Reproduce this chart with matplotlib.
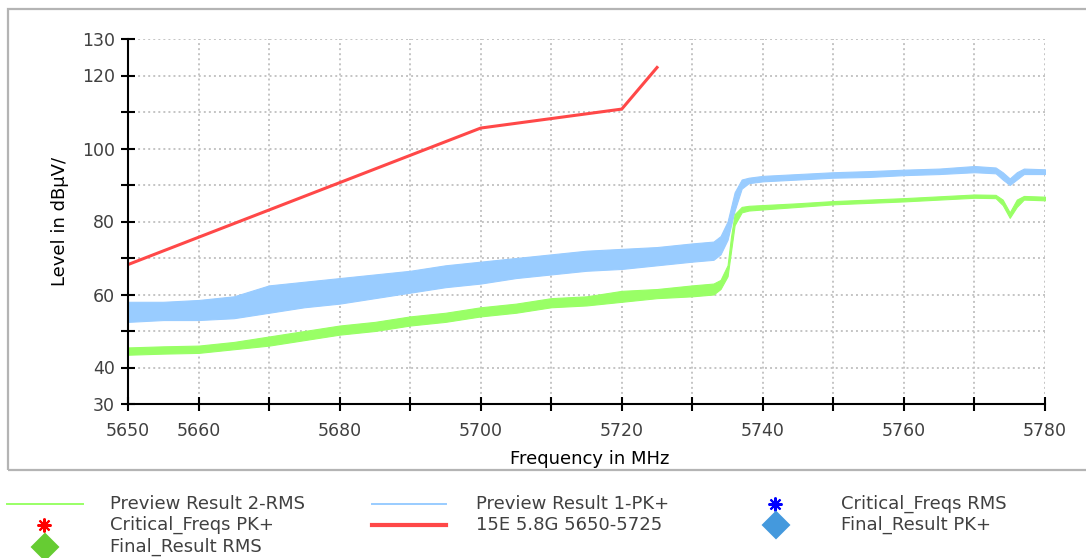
import matplotlib
matplotlib.use("Agg")
import matplotlib.pyplot as plt
from matplotlib.lines import Line2D
from matplotlib.patches import Rectangle

W, H = 1086, 558

# limit line 15E 5.8G 5650-5725
limit_freq = [5650, 5700, 5720, 5725]
limit_level = [68.2, 105.6, 110.8, 122.2]

# Preview Result 1-PK+ (envelope)
pk_freq = [5650, 5655, 5660, 5665, 5670, 5675, 5680, 5685, 5690, 5695, 5700,
           5705, 5710, 5715, 5720, 5725, 5730, 5733, 5734, 5735, 5736, 5737,
           5738, 5740, 5745, 5750, 5755, 5760, 5765, 5770, 5773, 5774, 5775,
           5776, 5777, 5780]
pk_low = [52.5, 53, 53, 53.5, 55, 56.5, 57.5, 59, 60.5, 62, 63,
          64.5, 65.5, 66.5, 67, 68, 69, 69.5, 71, 75, 83, 89,
          90.5, 91, 91.5, 92, 92.2, 92.7, 93, 93.5, 93.2, 91.5, 90,
          91.5, 93, 93]
pk_high = [58, 58, 58.5, 59.5, 62.5, 63.5, 64.5, 65.5, 66.5, 68, 69,
           70, 71, 72, 72.5, 73, 74, 74.5, 76, 80, 88, 91.5,
           92, 92.5, 93, 93.5, 93.8, 94.2, 94.5, 95.2, 94.8, 93.5, 91.8,
           93.5, 94.5, 94.3]

# Preview Result 2-RMS
rms_freq = [5650, 5655, 5660, 5665, 5670, 5675, 5680, 5685, 5690, 5695, 5700,
            5705, 5710, 5715, 5720, 5725, 5730, 5733, 5734, 5735, 5735.5, 5736,
            5737, 5738, 5740, 5745, 5750, 5760, 5770, 5773, 5774, 5775, 5776,
            5777, 5780]
rms_low = [43.5, 43.8, 44, 45, 46, 47.5, 49, 50, 51.5, 52.5, 54,
           55, 56.5, 57, 58, 59, 59.5, 60, 61.5, 65, 72, 79,
           82.5, 83, 83.3, 84, 84.7, 85.5, 86.5, 86.4, 84.5, 81, 84,
           86, 85.8]
rms_high = [45.5, 45.8, 46, 47, 48.5, 50, 51.5, 52.5, 54, 55, 56.5,
            57.5, 59, 59.5, 61, 61.5, 62.5, 63, 64, 68, 76, 82,
            84, 84.3, 84.5, 85, 85.6, 86.4, 87.4, 87.3, 86, 82.5, 86,
            87, 86.8]

x_ticks = [5650, 5660, 5670, 5680, 5690, 5700, 5710, 5720, 5730, 5740, 5750,
           5760, 5770, 5780]
x_labels = ["5650", "5660", "", "5680", "", "5700", "", "5720", "", "5740", "",
            "5760", "", "5780"]
y_ticks = [30, 40, 50, 60, 70, 80, 90, 100, 110, 120, 130]
y_labels = ["30", "40", "", "60", "", "80", "", "100", "", "120", "130"]

GREEN = "#99ff66"
BLUE = "#99ccff"
RED = "#ff4848"
TXT = "#404040"

plt.rcParams["font.family"] = ["DejaVu Sans"]

fig = plt.figure(figsize=(W / 100, H / 100), dpi=100)


def fx(x):
    return x / W


def fy(y):
    return 1 - y / H


# outer frame
fig.add_artist(Rectangle((fx(8), fy(470)), fx(1090) - fx(8), fy(9) - fy(470),
                         transform=fig.transFigure, fill=False,
                         edgecolor="#b4b4b4", linewidth=1.6))

ax = fig.add_axes([fx(128), fy(404), fx(1045) - fx(128), fy(39) - fy(404)])
ax.set_xlim(5650, 5780)
ax.set_ylim(30, 130)

ax.fill_between(pk_freq, pk_low, pk_high, color=BLUE, linewidth=0.8,
                edgecolor=BLUE, zorder=3)
ax.fill_between(rms_freq, rms_low, rms_high, color=GREEN, linewidth=0.8,
                edgecolor=GREEN, zorder=4)
ax.plot(limit_freq, limit_level, color=RED, linewidth=2.2, zorder=5)

ax.set_xticks(x_ticks)
ax.set_xticklabels(x_labels)
ax.set_yticks(y_ticks)
ax.set_yticklabels(y_labels)
ax.tick_params(axis="both", direction="inout", length=9.5, width=1.5,
               color="black", labelcolor=TXT, labelsize=12.5)
ax.tick_params(axis="y", pad=4.5)
ax.tick_params(axis="x", pad=8)
ax.grid(True, color="#c4c4c4", linestyle=(0, (1, 1.6)), linewidth=1.4, zorder=1)
ax.set_axisbelow(True)
for side in ("top", "right"):
    ax.spines[side].set_visible(False)
for side in ("left", "bottom"):
    ax.spines[side].set_linewidth(1.5)
    ax.spines[side].set_zorder(6)

fig.text(fx(590), fy(459), "Frequency in MHz", ha="center", va="center",
         fontsize=13, color="black")
fig.text(fx(60), fy(221), "Level in dBµV/", ha="center", va="center",
         rotation=90, fontsize=13, color="black")

# legend
rows = [504, 525, 547]


def leg_line(x0, x1, y, color, lw):
    fig.add_artist(Line2D([fx(x0), fx(x1)], [fy(y), fy(y)],
                          transform=fig.transFigure, color=color, linewidth=lw))


def leg_mark(x, y, marker, color, size):
    fig.add_artist(Line2D([fx(x)], [fy(y)], transform=fig.transFigure,
                          marker=marker, color=color, markersize=size,
                          linestyle="none", markeredgewidth=1.5))


def leg_text(x, y, s):
    fig.text(fx(x), fy(y), s, ha="left", va="center", fontsize=13, color=TXT)


leg_line(7, 83, rows[0], GREEN, 1.4)
leg_text(110, rows[0], "Preview Result 2-RMS")
leg_mark(44, rows[1], (8, 2, 0), "#ff0000", 10)
leg_text(110, rows[1], "Critical_Freqs PK+")
leg_mark(45, rows[2], "D", "#66cc33", 13)
leg_text(110, rows[2], "Final_Result RMS")

leg_line(372, 446, rows[0], BLUE, 1.4)
leg_text(476, rows[0], "Preview Result 1-PK+")
leg_line(372, 446, rows[1], RED, 3)
leg_text(476, rows[1], "15E 5.8G 5650-5725")

leg_mark(775, rows[0], (8, 2, 0), "#0000ff", 10)
leg_text(841, rows[0], "Critical_Freqs RMS")
leg_mark(776, rows[1], "D", "#4499dd", 13)
leg_text(841, rows[1], "Final_Result PK+")

fig.savefig("out.png", dpi=100)
